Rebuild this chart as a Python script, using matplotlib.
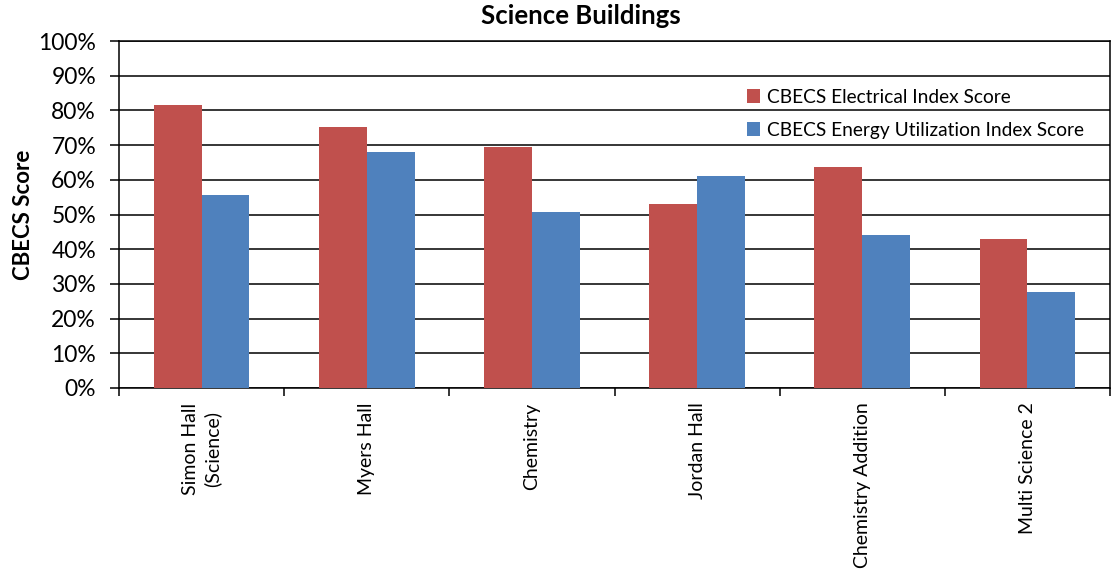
import numpy as np
import matplotlib.pyplot as plt
from matplotlib.ticker import PercentFormatter, FixedLocator, NullFormatter

plt.rcParams['font.family'] = ['Lato', 'DejaVu Sans']

buildings = ['Simon Hall\n(Science)', 'Myers Hall', 'Chemistry', 'Jordan Hall',
             'Chemistry Addition', 'Multi Science 2']
electrical = [81.6, 75.2, 69.5, 53.0, 63.7, 42.9]
energy_use = [55.6, 68.0, 50.7, 61.1, 44.1, 27.7]

red = '#c0504d'
blue = '#4f81bd'

fig = plt.figure(figsize=(11.17, 5.77), dpi=100)
ax = fig.add_axes([119 / 1117, 1 - 388 / 577, 991 / 1117, 347 / 577])

x = np.arange(len(buildings))
w = 0.29
ax.bar(x - w / 2, electrical, w, color=red, label='CBECS Electrical Index Score', zorder=3)
ax.bar(x + w / 2, energy_use, w, color=blue, label='CBECS Energy Utilization Index Score', zorder=3)

ax.set_xlim(-0.5, len(buildings) - 0.5)
ax.set_ylim(0, 100)
ax.set_yticks(np.arange(0, 101, 10))
ax.yaxis.set_major_formatter(PercentFormatter(decimals=0))
ax.grid(axis='y', color='black', lw=1.1, zorder=1)
for s in ax.spines.values():
    s.set_linewidth(1.1)
ax.tick_params(axis='y', labelsize=16.5, length=6.5, width=1.1, direction='out', pad=10)

# ticks sit between categories, labels at category centres
ax.xaxis.set_major_locator(FixedLocator(np.arange(-0.5, len(buildings), 1)))
ax.xaxis.set_major_formatter(NullFormatter())
ax.tick_params(axis='x', length=6, width=1.1, direction='out')
for xi, name in zip(x, buildings):
    ax.text(xi, -4.2, name, rotation=90, ha='center', va='top', fontsize=14,
            multialignment='center', linespacing=1.35, clip_on=False)

ax.set_ylabel('CBECS Score', fontsize=16, fontweight='bold', labelpad=3)
ax.set_title('Science Buildings', fontsize=18.5, fontweight='bold', pad=12, x=0.466)

ax.legend(loc='upper left', bbox_to_anchor=(0.626, 0.885), frameon=False,
          fontsize=13.8, handlelength=0.7, handleheight=0.7, handletextpad=0.35,
          labelspacing=0.85, borderaxespad=0)

fig.savefig('out.png', dpi=100)
